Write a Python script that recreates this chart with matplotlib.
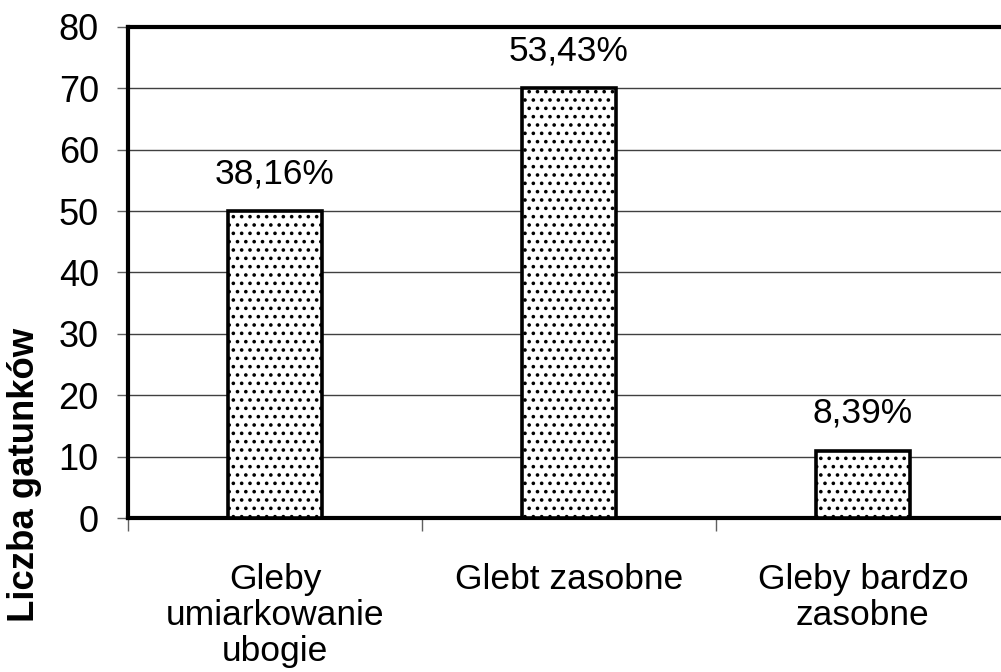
import matplotlib
matplotlib.use("Agg")
import matplotlib.pyplot as plt
from matplotlib.ticker import MultipleLocator, FixedLocator

categories = ["Gleby\numiarkowanie\nubogie", "Glebt zasobne", "Gleby bardzo\nzasobne"]
species_count = [50, 70, 11]
share_labels = ["38,16%", "53,43%", "8,39%"]

plt.rcParams["font.family"] = ["Liberation Sans", "DejaVu Sans"]
plt.rcParams["hatch.linewidth"] = 1.4
plt.rcParams["hatch.color"] = "#222222"

fig = plt.figure(figsize=(10.01, 6.72), dpi=100)
ax = fig.add_axes([0.1279, 0.229, 0.881, 0.731])

x = list(range(len(categories)))
bars = ax.bar(x, species_count, width=0.32, color="white", edgecolor="black",
              linewidth=2.6, hatch="..", zorder=3)

for b, txt in zip(bars, share_labels):
    ax.annotate(txt, (b.get_x() + b.get_width() / 2, b.get_height()),
                xytext=(0, 15), textcoords="offset points",
                ha="center", va="bottom", fontsize=25.5)

ax.set_xlim(-0.5, 2.5)
ax.set_ylim(0, 80)
ax.yaxis.set_major_locator(MultipleLocator(10))
ax.grid(axis="y", color="#404040", linewidth=1.0, zorder=0)

ax.set_xticks(x)
ax.set_xticklabels(categories, fontsize=25.5, linespacing=1.12)
ax.xaxis.set_minor_locator(FixedLocator([-0.5, 0.5, 1.5, 2.5]))
ax.tick_params(axis="x", which="major", length=0, pad=32)
ax.tick_params(axis="x", which="minor", length=9, width=1, color="#606060")
ax.tick_params(axis="y", length=8, width=1, color="#606060", labelsize=26, pad=13)

for side in ("left", "top", "bottom"):
    ax.spines[side].set_linewidth(3)
ax.spines["right"].set_visible(False)

ax.set_ylabel("Liczba gatunków", fontsize=26.3, fontweight="bold")
ax.yaxis.set_label_coords(-0.097, 0.088)

fig.savefig("out.png", dpi=100)
